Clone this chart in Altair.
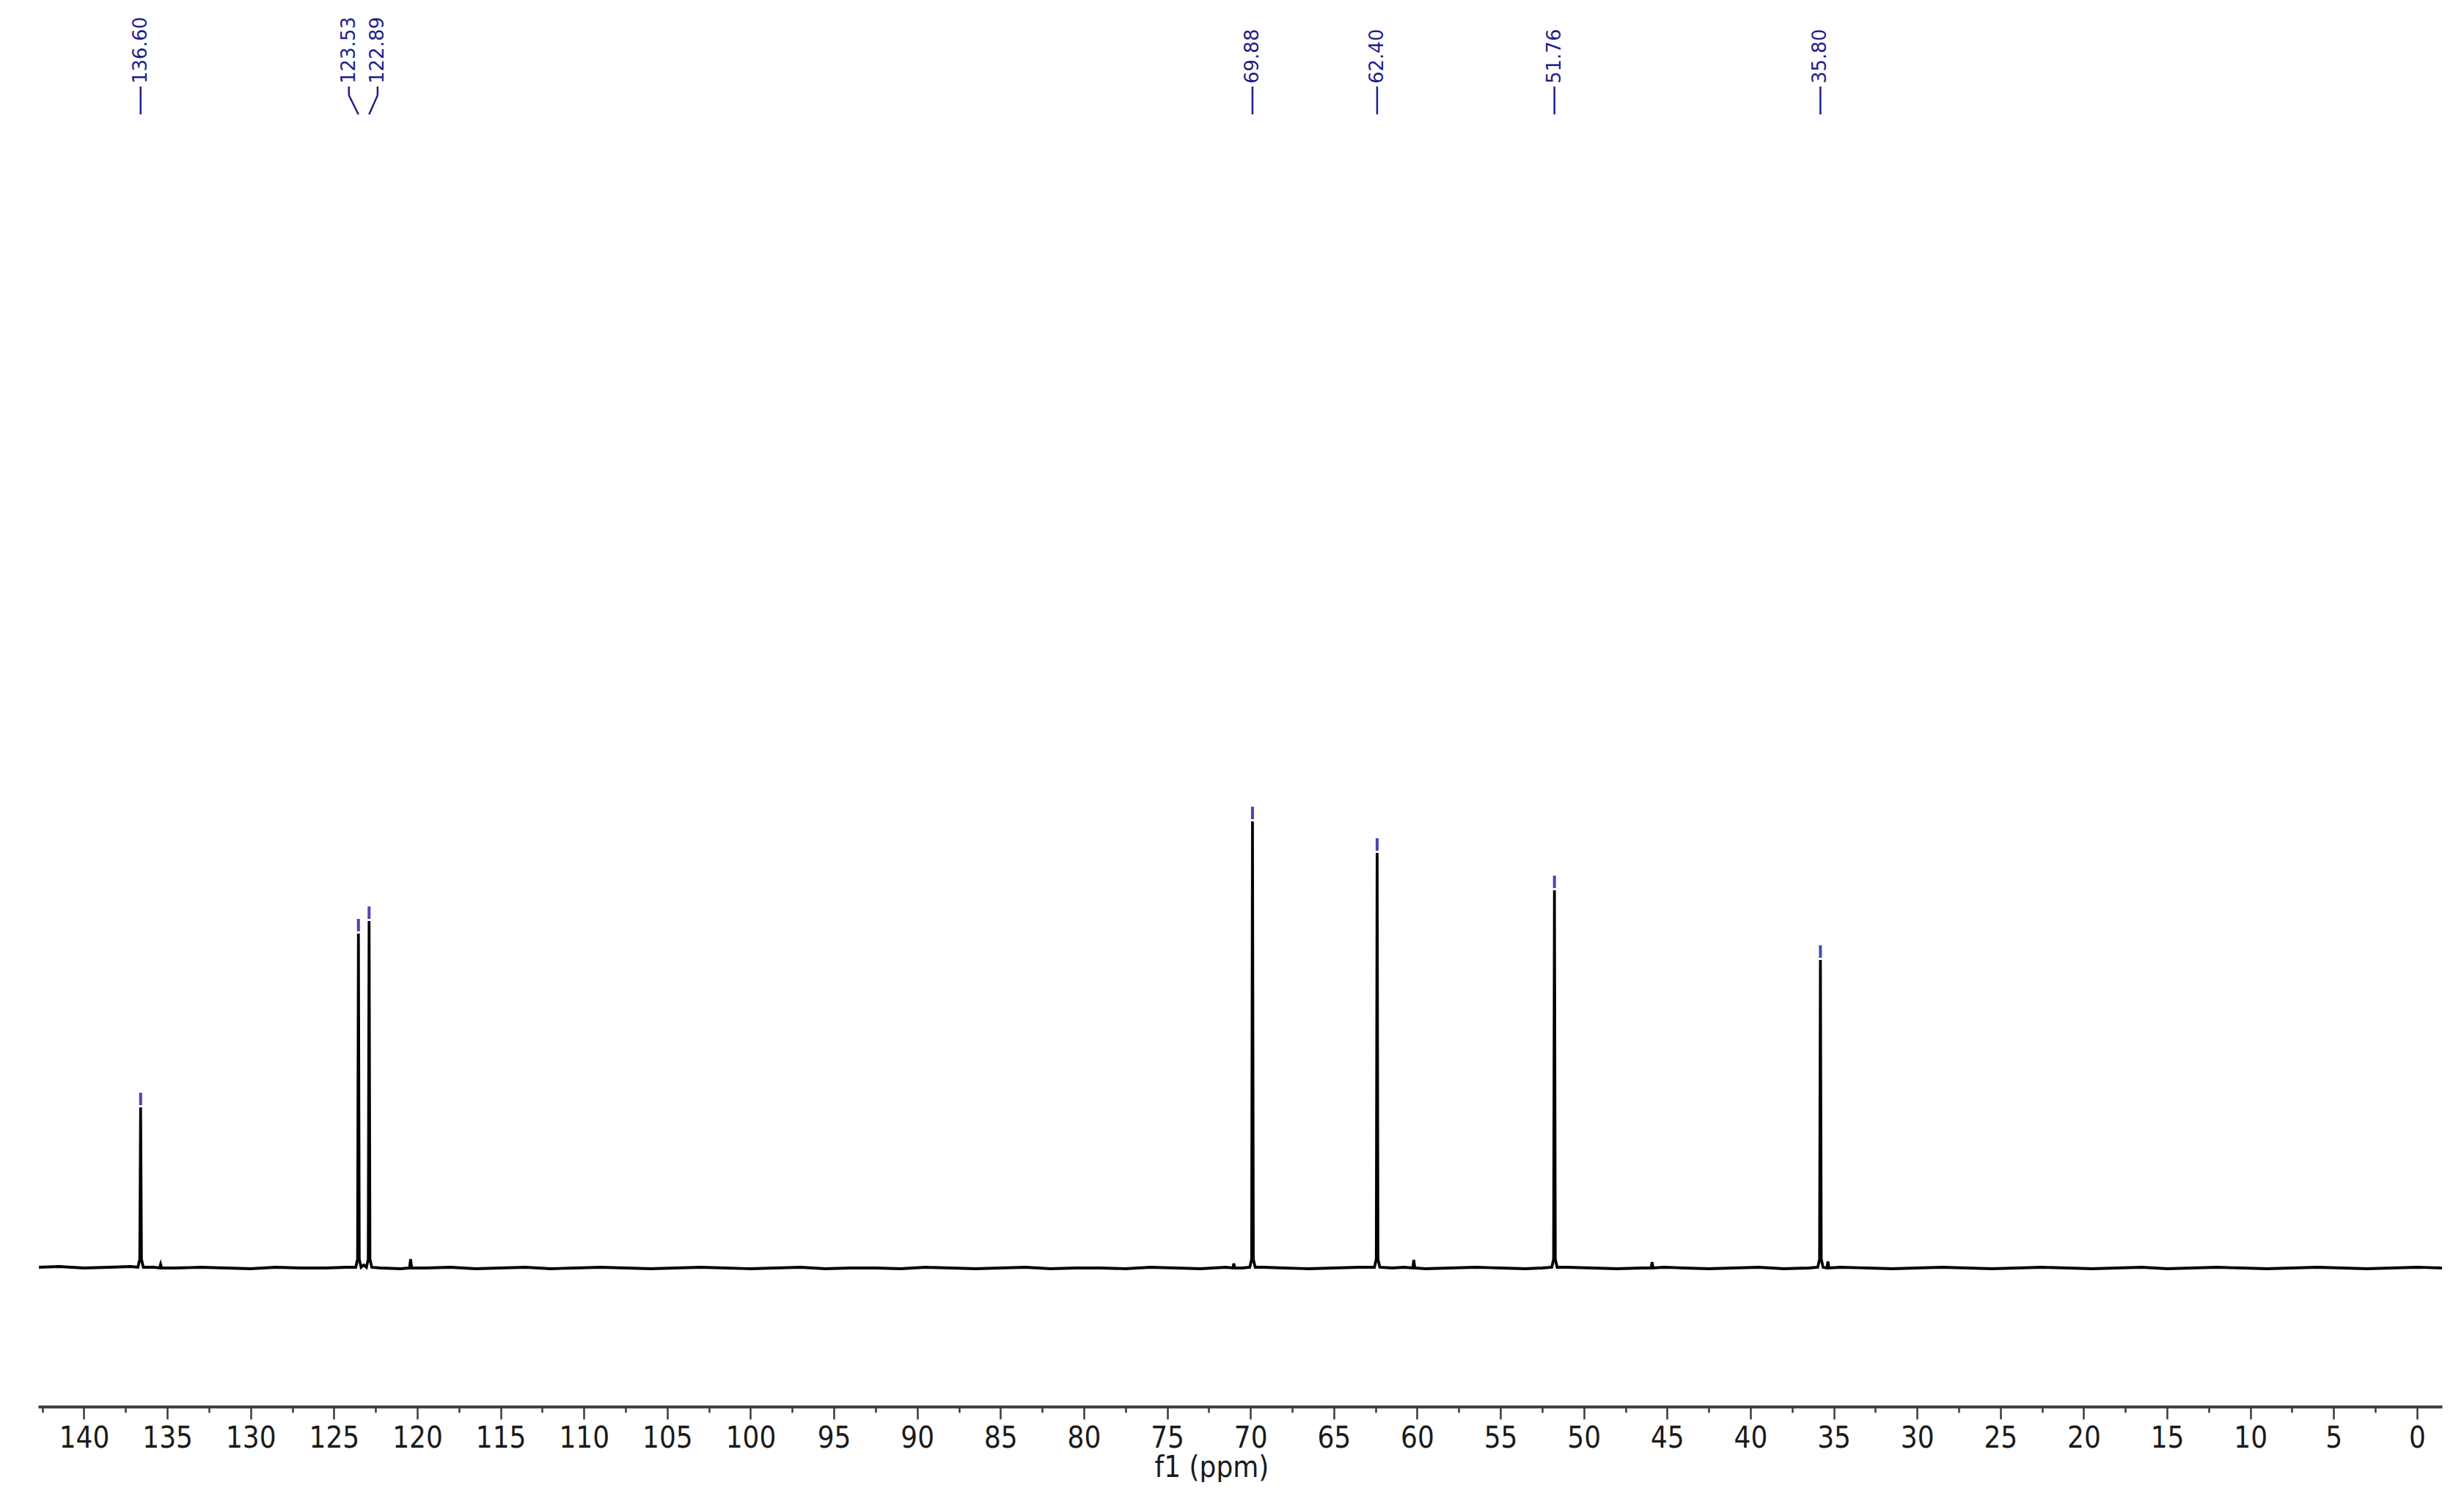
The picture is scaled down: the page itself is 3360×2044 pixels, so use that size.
import altair as alt
import pandas as pd

# ---- data ----
peak_ppm = [136.60, 123.53, 122.89, 69.88, 62.40, 51.76, 35.80]
peak_height = [219, 456, 473, 609, 566, 515, 420]
peak_label = ["136.60", "123.53", "122.89", "69.88", "62.40", "51.76", "35.80"]
label_ppm = [136.60, 124.10, 122.38, 69.88, 62.40, 51.76, 35.80]

small_ppm = [135.40, 120.40, 71.00, 60.20, 45.90, 35.35]
small_height = [5, 12, 6, 11, 8, 9]

base_ppm = [142.7, 141.5, 140.0, 138.5, 137.2, 135.8, 134.5, 133.0, 131.5, 130.0,
            128.5, 127.0, 125.5, 124.2, 123.21, 122.2, 121.0, 119.5, 118.0, 116.5,
            115.0, 113.5, 112.0, 110.5, 109.0, 107.5, 106.0, 104.5, 103.0, 101.5,
            100.0, 98.5, 97.0, 95.5, 94.0, 92.5, 91.0, 89.5, 88.0, 86.5,
            85.0, 83.5, 82.0, 80.5, 79.0, 77.5, 76.0, 74.5, 73.0, 71.5,
            70.5, 69.2, 68.0, 66.5, 65.0, 63.5, 61.5, 60.8, 59.5, 58.0,
            56.5, 55.0, 53.5, 52.5, 51.0, 49.5, 48.0, 46.5, 45.2, 44.0,
            42.5, 41.0, 39.5, 38.0, 36.5, 34.6, 33.0, 31.5, 30.0, 28.5,
            27.0, 25.5, 24.0, 22.5, 21.0, 19.5, 18.0, 16.5, 15.0, 13.5,
            12.0, 10.5, 9.0, 7.5, 6.0, 4.5, 3.0, 1.5, 0.0, -1.5]
base_val = [1, 2, 0, 1, 2, 1, 0, 1, 0, -1,
            1, 0, 0, 1, 4, 0, -1, 0, 1, -1,
            0, 1, -1, 0, 1, 0, -1, 0, 1, 0,
            -1, 0, 1, -1, 0, 0, -1, 1, 0, -1,
            0, 1, -1, 0, 0, -1, 1, 0, -1, 1,
            0, 1, 0, -1, 0, 1, 0, 1, -1, 0,
            1, 0, -1, 0, 1, 0, -1, 0, 1, 0,
            -1, 0, 1, -1, 0, 1, 0, -1, 0, 1,
            0, -1, 0, 1, 0, -1, 0, 1, -1, 0,
            1, 0, -1, 0, 1, 0, -1, 0, 1, 0]

major_ticks = list(range(0, 145, 5))
minor_ticks = [m + 2.5 for m in range(0, 145, 5)]

# ---- build tables ----
pts = []
for p, v in zip(base_ppm, base_val):
    pts.append({"ppm": p, "I": v})
for p, h in zip(peak_ppm, peak_height):
    pts += [{"ppm": p + 0.16, "I": 1}, {"ppm": p + 0.05, "I": 12},
            {"ppm": p, "I": h},
            {"ppm": p - 0.05, "I": 12}, {"ppm": p - 0.16, "I": 1}]
for p, h in zip(small_ppm, small_height):
    pts += [{"ppm": p + 0.06, "I": 0}, {"ppm": p, "I": h}, {"ppm": p - 0.06, "I": 0}]
spec = pd.DataFrame(pts).sort_values("ppm")

peaks = pd.DataFrame({"ppm": peak_ppm, "h": peak_height, "lab": peak_label,
                      "lppm": label_ppm})
peaks["m0"] = peaks["h"] + 3
peaks["m1"] = peaks["h"] + 20

tick_values = sorted(major_ticks + minor_ticks)

x_scale = alt.Scale(domain=[-1.5, 142.75], reverse=True, nice=False, zero=False)
y_scale = alt.Scale(domain=[-189, 1721], nice=False, zero=False)

axis = alt.Axis(
    values=tick_values,
    labelExpr="datum.value % 5 === 0 ? datum.label : ''",
    tickSize={"condition": {"test": "datum.value % 5 === 0", "value": 17}, "value": 8},
    title="f1 (ppm)",
    grid=False,
    domainColor="#3a3a3a", domainWidth=4,
    tickColor="#3a3a3a", tickWidth=2.5,
    labelFont="DejaVu Sans Condensed", labelFontSize=40, labelColor="#1a1a1a",
    labelPadding=6, labelFlush=False, labelOverlap=False,
    titleFont="DejaVu Sans Condensed", titleFontSize=40, titleFontWeight="normal",
    titleColor="#1a1a1a", titlePadding=0, titleX=1600,
)

def X(field):
    return alt.X(field, type="quantitative", scale=x_scale, axis=axis)

line = alt.Chart(spec).mark_line(color="black", strokeWidth=3.8, interpolate="linear").encode(
    x=X("ppm"),
    y=alt.Y("I:Q", scale=y_scale, axis=None),
    order=alt.Order("ppm:Q", sort="descending"),
)

markers = alt.Chart(peaks).mark_rule(color="#4646b4", strokeWidth=4).encode(
    x=X("ppm"),
    y=alt.Y("m0:Q", scale=y_scale, axis=None),
    y2="m1:Q",
)

labels = alt.Chart(peaks).mark_text(
    angle=270, align="left", baseline="middle", font="DejaVu Sans",
    fontSize=26, color="#1e1e8c"
).encode(
    x=X("lppm"),
    y=alt.value(106),
    text="lab:N",
)

conn_a = alt.Chart(peaks).mark_rule(color="#1e1e8c", strokeWidth=2.5).encode(
    x=X("lppm"),
    y=alt.value(110),
    y2=alt.value(122),
)
conn_b = alt.Chart(peaks).mark_rule(color="#1e1e8c", strokeWidth=2.5).encode(
    x=X("lppm"),
    x2="ppm:Q",
    y=alt.value(122),
    y2=alt.value(148),
)

chart = alt.layer(line, markers, conn_a, conn_b, labels).properties(
    width=3278, height=1910,
    padding={"left": 37, "top": 0, "right": 0, "bottom": 0},
    background="white",
).configure_view(stroke=None)

chart.save("out.html", embed_options={"renderer": "svg", "actions": False})
